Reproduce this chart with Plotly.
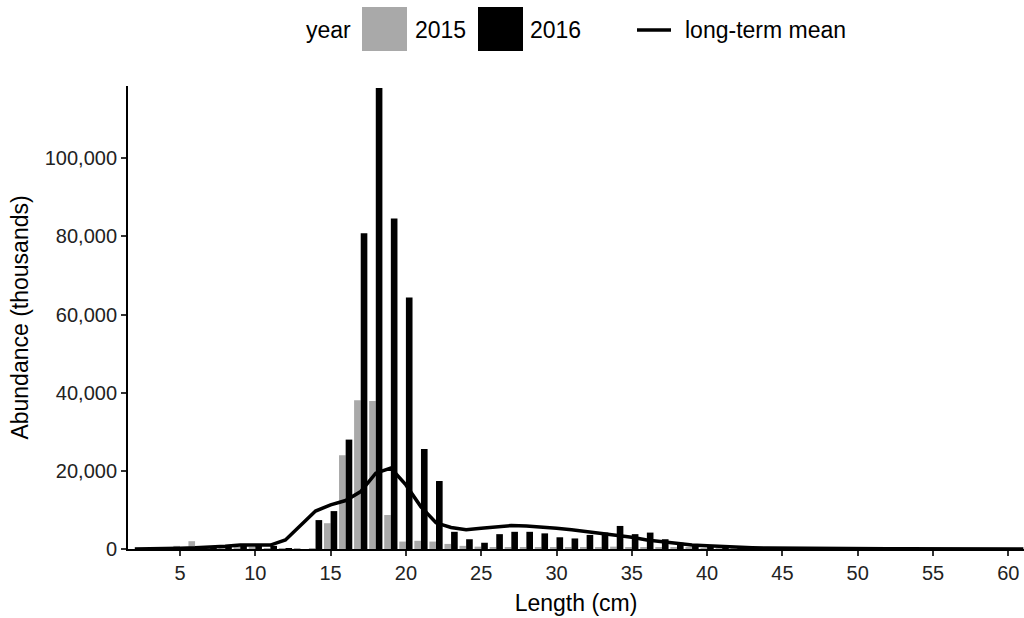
import plotly.graph_objects as go

lengths = list(range(2, 62))

abund_2015 = [0, 0, 100, 800, 2000, 300, 200, 300, 300, 200, 100, 100, 100,
              6600, 24000, 38100, 37900, 8700, 1900, 2100, 1900, 1300, 800, 600, 500,
              500, 500, 500, 500, 500, 500, 500, 600, 500, 500, 400, 400, 300, 200,
              150, 100, 100, 80, 60, 50, 40, 30, 30, 20, 20, 20, 10, 10, 10, 10, 10, 10, 10, 10, 0]

abund_2016 = [0, 0, 0, 100, 200, 300, 500, 800, 900, 800, 100, 0, 7400,
              9700, 28000, 80800, 118000, 84600, 64400, 25600, 17400, 4400, 2500, 1600, 3800,
              4400, 4400, 4000, 3000, 2700, 3600, 4200, 5900, 3800, 4200, 2500, 1600, 1000, 700,
              400, 300, 200, 150, 100, 80, 60, 50, 40, 30, 30, 20, 20, 20, 10, 10, 10, 10, 10, 10, 0]

long_term_mean = [0, 0, 100, 200, 300, 400, 700, 1000, 1100, 1000, 2300, 6000, 9700,
                  11300, 12400, 14700, 19400, 20700, 16400, 10800, 6700, 5500, 4900, 5300, 5700,
                  6000, 5900, 5700, 5300, 4900, 4400, 4100, 3600, 3000, 2300, 1900, 1300, 1000, 800,
                  600, 450, 350, 250, 200, 150, 120, 100, 90, 80, 70, 60, 50, 50, 40, 40, 30, 30, 30, 30, 30]

x_ticks = [5, 10, 15, 20, 25, 30, 35, 40, 45, 50, 55, 60]
y_ticks = [0, 20000, 40000, 60000, 80000, 100000]

GREY = "#a9a9a9"
FONT = "Liberation Sans, Arial, sans-serif"

fig = go.Figure()
fig.add_trace(go.Bar(x=lengths, y=abund_2015, name="2015", marker_color=GREY,
                     marker_line_width=0, showlegend=False))
fig.add_trace(go.Bar(x=lengths, y=abund_2016, name="2016", marker_color="black",
                     marker_line_width=0, showlegend=False))
fig.add_trace(go.Scatter(x=lengths, y=long_term_mean, mode="lines", name="long-term mean",
                         line=dict(color="black", width=3.5), showlegend=False))

# custom legend (ggplot-style large keys)
L, R, T, B = 128, 1024, 86, 549
W, H = R - L, B - T
def px(x):
    return (x - L) / W
def py(y):
    return (B - y) / H

LEG = 23
shapes = [
    dict(type="rect", xref="paper", yref="paper", x0=px(362), x1=px(407), y0=py(51), y1=py(7),
         fillcolor=GREY, line_width=0),
    dict(type="rect", xref="paper", yref="paper", x0=px(478), x1=px(523), y0=py(51), y1=py(7),
         fillcolor="black", line_width=0),
    dict(type="line", xref="paper", yref="paper", x0=px(637), x1=px(671), y0=py(30), y1=py(30),
         line=dict(color="black", width=3.5)),
]
annotations = [
    dict(text="year", xref="paper", yref="paper", x=px(353), y=py(30), xanchor="right",
         yanchor="middle", showarrow=False, font=dict(size=LEG, color="black", family=FONT)),
    dict(text="2015", xref="paper", yref="paper", x=px(413), y=py(30), xanchor="left",
         yanchor="middle", showarrow=False, font=dict(size=LEG, color="black", family=FONT)),
    dict(text="2016", xref="paper", yref="paper", x=px(528), y=py(30), xanchor="left",
         yanchor="middle", showarrow=False, font=dict(size=LEG, color="black", family=FONT)),
    dict(text="long-term mean", xref="paper", yref="paper", x=px(683), y=py(30), xanchor="left",
         yanchor="middle", showarrow=False, font=dict(size=LEG, color="black", family=FONT)),
]

x0 = 5 - (180 - L) / 15.06
x1 = x0 + W / 15.06

fig.update_layout(
    width=1024, height=618,
    margin=dict(l=L, r=1024 - R, t=T, b=618 - B),
    paper_bgcolor="white", plot_bgcolor="white",
    barmode="group", bargap=0.12, bargroupgap=0,
    font=dict(family=FONT, color="black"),
    shapes=shapes, annotations=annotations,
    xaxis=dict(range=[x0, x1], tickvals=x_ticks, ticks="outside", ticklen=5, tickwidth=1.5,
               tickcolor="#333333", showline=True, linecolor="black", linewidth=2,
               showgrid=False, zeroline=False,
               tickfont=dict(size=20, color="#222222"),
               title=dict(text="Length (cm)", font=dict(size=23, color="black"), standoff=12)),
    yaxis=dict(range=[0, 118500], tickvals=y_ticks, tickformat=",d", ticks="outside", ticklen=5,
               tickwidth=1.5, tickcolor="#333333", showline=True, linecolor="black", linewidth=2,
               showgrid=False, zeroline=False,
               tickfont=dict(size=20, color="#222222"),
               title=dict(text="Abundance (thousands)", font=dict(size=23, color="black"), standoff=10)),
)

fig.write_html("out.html", config={"responsive": False, "displayModeBar": False},
               post_script="document.body.style.margin='0';document.body.style.padding='0';")
